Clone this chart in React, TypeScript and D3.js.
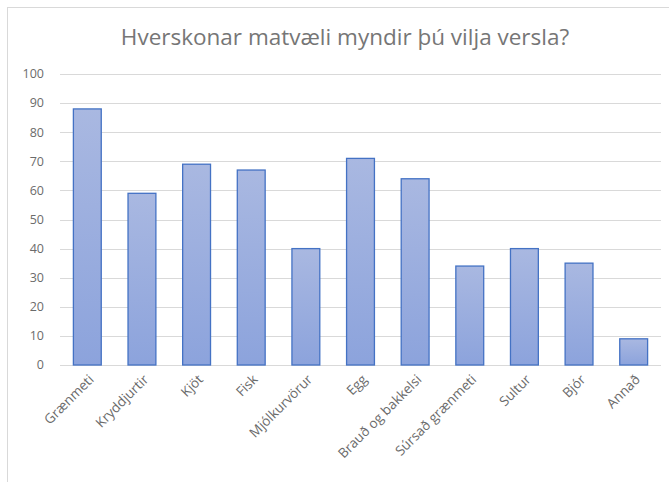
import React, { useRef, useEffect } from 'react'
import * as d3 from 'd3'

const categories = [
  'Grænmeti', 'Kryddjurtir', 'Kjöt', 'Fisk', 'Mjólkurvörur', 'Egg',
  'Brauð og bakkelsi', 'Súrsað grænmeti', 'Sultur', 'Bjór', 'Annað'
]
const values = [88, 59, 69, 67, 40, 71, 64, 34, 40, 35, 9]
const yTicks = [0, 10, 20, 30, 40, 50, 60, 70, 80, 90, 100]
const title = 'Hverskonar matvæli myndir þú vilja versla?'

const W = 669
const H = 482
const margin = { top: 74, right: 8, bottom: 117, left: 60 }
const FONT = 'Open Sans, Calibri, sans-serif'

export default function App() {
  const svgRef = useRef<SVGSVGElement>(null)

  useEffect(() => {
    if (!svgRef.current) return
    const svg = d3.select(svgRef.current)
    svg.selectAll('*').remove()

    const chartW = W - margin.left - margin.right
    const chartH = H - margin.top - margin.bottom

    // rand um myndina
    svg.append('rect')
      .attr('x', 7.5).attr('y', 7.5)
      .attr('width', W).attr('height', H)
      .attr('fill', '#fff')
      .attr('stroke', '#d9d9d9')

    svg.append('text')
      .attr('x', 345).attr('y', 45)
      .attr('text-anchor', 'middle')
      .style('font-family', FONT)
      .style('font-size', '22.5px')
      .style('fill', '#767676')
      .text(title)

    const defs = svg.append('defs')
    const grad = defs.append('linearGradient')
      .attr('id', 'barGrad')
      .attr('x1', '0').attr('y1', '0')
      .attr('x2', '0').attr('y2', '1')
    grad.append('stop').attr('offset', '0%').attr('stop-color', '#a9b8e1')
    grad.append('stop').attr('offset', '100%').attr('stop-color', '#8ca3dc')

    const g = svg.append('g')
      .attr('transform', `translate(${margin.left},${margin.top})`)

    const x = d3.scaleBand().domain(categories).range([0, chartW]).paddingInner(0.49).paddingOuter(0.245)
    const y = d3.scaleLinear().domain([0, 100]).range([chartH, 0])

    // gridlínur
    g.selectAll('.grid')
      .data(yTicks)
      .enter()
      .append('line')
      .attr('x1', 0).attr('x2', chartW)
      .attr('y1', d => Math.round(y(d)) + 0.5)
      .attr('y2', d => Math.round(y(d)) + 0.5)
      .attr('stroke', '#d9d9d9')
      .attr('stroke-width', 1)

    g.selectAll('.ylab')
      .data(yTicks)
      .enter()
      .append('text')
      .attr('x', -16)
      .attr('y', d => y(d))
      .attr('dy', '0.35em')
      .attr('text-anchor', 'end')
      .style('font-family', FONT)
      .style('font-size', '12.5px')
      .style('fill', '#6b6b6b')
      .text(d => d)

    g.selectAll('.bar')
      .data(values)
      .enter()
      .append('rect')
      .attr('x', (d, i) => x(categories[i])!)
      .attr('y', d => y(d))
      .attr('width', x.bandwidth())
      .attr('height', d => chartH - y(d))
      .attr('fill', 'url(#barGrad)')
      .attr('stroke', '#4472c4')
      .attr('stroke-width', 1.3)

    g.selectAll('.xlab')
      .data(categories)
      .enter()
      .append('text')
      .attr('transform', d => `translate(${x(d)! + x.bandwidth() / 2 + 4},${chartH + 12}) rotate(-45)`)
      .attr('text-anchor', 'end')
      .attr('dy', '0.35em')
      .style('font-family', FONT)
      .style('font-size', '13.5px')
      .style('fill', '#6b6b6b')
      .text(d => d)
  }, [])

  return (
    <svg
      ref={svgRef}
      width={W}
      height={H}
      style={{ position: 'absolute', left: 0, top: 0, background: '#fff' }}
    />
  )
}
